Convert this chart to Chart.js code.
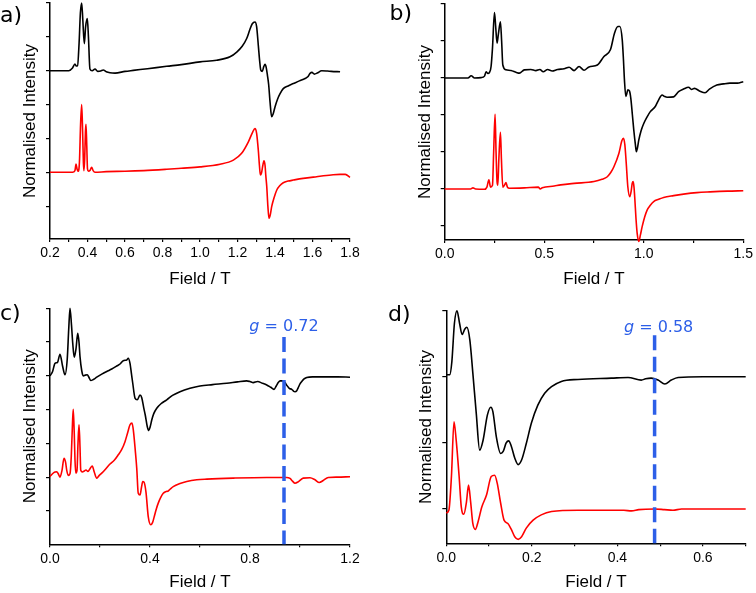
<!DOCTYPE html>
<html>
<head>
<meta charset="utf-8">
<script src="https://cdn.jsdelivr.net/npm/chart.js@4.4.0/dist/chart.umd.min.js"></script>
<style>
body { margin: 0; background: #fff; }
#wrap { position: relative; width: 756px; height: 593px; }
canvas { position: absolute; }
</style>
</head>
<body>
<div id="wrap">
<canvas id="chartA" width="378" height="290" style="left:0;top:0"></canvas>
<canvas id="chartB" width="378" height="290" style="left:378px;top:0"></canvas>
<canvas id="chartC" width="378" height="303" style="left:0;top:290px"></canvas>
<canvas id="chartD" width="378" height="303" style="left:378px;top:290px"></canvas>
</div>
<script>
// ---- panel a ----
const aBlackX = [0.20,0.30,0.32,0.333,0.34,0.347,0.355,0.362,0.369,0.375,0.383,0.39,0.399,0.405,0.413,0.425,0.44,0.455,0.47,0.484,0.50,0.52,0.547,0.60,0.644,0.72,0.822,0.90,1.00,1.089,1.16,1.196,1.225,1.249,1.265,1.278,1.293,1.302,1.311,1.318,1.324,1.332,1.340,1.347,1.353,1.36,1.366,1.374,1.382,1.39,1.40,1.413,1.427,1.444,1.47,1.498,1.53,1.56,1.575,1.587,1.597,1.61,1.625,1.649,1.68,1.70,1.747];
const aBlackY = [5.00,5.00,5.08,5.20,5.14,5.15,5.8,6.7,7.00,6.5,5.8,6.3,6.54,6.0,5.05,5.0,5.05,4.98,4.99,5.02,4.97,4.94,4.93,4.98,5.01,5.06,5.13,5.18,5.26,5.31,5.41,5.55,5.72,5.95,6.2,6.38,6.44,6.3,5.75,5.3,5.02,4.98,5.12,5.19,5.1,4.85,4.6,4.05,3.64,3.72,3.93,4.15,4.32,4.47,4.55,4.62,4.7,4.77,4.82,4.92,4.95,4.9,4.93,5.0,4.99,4.98,4.97];
const aRedX = [0.20,0.32,0.333,0.339,0.345,0.35,0.357,0.363,0.369,0.374,0.378,0.381,0.385,0.389,0.392,0.396,0.40,0.405,0.413,0.422,0.43,0.44,0.50,0.60,0.70,0.822,0.90,1.00,1.107,1.178,1.222,1.258,1.281,1.293,1.302,1.311,1.317,1.322,1.328,1.335,1.341,1.347,1.351,1.356,1.362,1.368,1.375,1.382,1.395,1.409,1.425,1.444,1.47,1.498,1.55,1.622,1.70,1.747,1.775,1.80];
const aRedY = [2.00,2.00,2.05,2.24,2.08,2.03,2.3,3.4,4.00,3.2,2.3,2.05,2.4,3.2,3.42,2.8,2.1,2.03,2.05,2.15,2.05,2.00,2.02,2.03,2.05,2.09,2.12,2.16,2.24,2.36,2.56,2.90,3.19,3.29,3.15,2.65,2.2,1.92,1.98,2.2,2.34,2.2,1.9,1.58,1.0,0.64,0.75,0.98,1.25,1.47,1.6,1.69,1.74,1.77,1.82,1.87,1.92,1.94,1.94,1.85];
const aTicks = [0.2,0.3,0.4,0.5,0.6,0.7,0.8,0.9,1.0,1.1,1.2,1.3,1.4,1.5,1.6,1.7,1.8];
const aLabels = ['0.2','','0.4','','0.6','','0.8','','1.0','','1.2','','1.4','','1.6','','1.8'];

// ---- panel b ----
const bBlackX = [0.00,0.117,0.133,0.15,0.183,0.20,0.208,0.217,0.225,0.233,0.24,0.25,0.256,0.263,0.27,0.28,0.286,0.292,0.308,0.333,0.36,0.375,0.40,0.433,0.458,0.478,0.495,0.517,0.54,0.567,0.60,0.625,0.65,0.675,0.70,0.725,0.767,0.80,0.833,0.853,0.87,0.88,0.892,0.898,0.903,0.91,0.915,0.92,0.928,0.935,0.943,0.95,0.958,0.963,0.968,0.975,0.987,1.00,1.017,1.033,1.058,1.075,1.092,1.105,1.117,1.15,1.175,1.20,1.225,1.24,1.255,1.28,1.308,1.33,1.367,1.40,1.433,1.47,1.50];
const bBlackY = [5.00,5.00,5.06,5.0,5.01,5.05,5.17,5.12,5.15,5.31,5.8,6.77,6.4,5.94,6.2,6.52,6.0,5.35,5.22,5.2,5.15,5.13,5.22,5.23,5.2,5.23,5.17,5.23,5.19,5.23,5.25,5.29,5.2,5.31,5.21,5.3,5.35,5.58,5.77,6.21,6.39,6.39,6.03,5.5,4.95,4.5,4.58,4.68,4.65,4.45,4.0,3.59,3.2,3.01,3.1,3.32,3.58,3.77,3.95,4.09,4.23,4.41,4.54,4.5,4.48,4.49,4.63,4.7,4.75,4.69,4.72,4.65,4.6,4.7,4.81,4.84,4.86,4.86,4.9];
const bRedX = [0.00,0.13,0.142,0.155,0.20,0.212,0.222,0.23,0.24,0.246,0.253,0.258,0.263,0.267,0.272,0.28,0.285,0.292,0.30,0.308,0.315,0.325,0.40,0.47,0.48,0.49,0.55,0.583,0.65,0.75,0.79,0.817,0.835,0.85,0.875,0.89,0.898,0.905,0.912,0.92,0.93,0.937,0.942,0.947,0.951,0.955,0.961,0.967,0.975,0.983,0.992,1.005,1.017,1.033,1.05,1.075,1.1,1.15,1.2,1.267,1.333,1.42,1.5];
const bRedY = [2.00,2.00,2.03,2.0,1.99,2.05,2.25,2.05,2.1,3.0,4.02,3.0,2.2,2.1,2.8,3.53,2.8,2.05,2.1,2.17,2.05,2.02,2.03,2.05,2.0,2.03,2.08,2.11,2.15,2.2,2.26,2.33,2.45,2.6,2.96,3.3,3.37,3.2,2.7,2.06,1.79,1.95,2.15,2.2,2.05,1.75,1.2,0.8,0.58,0.75,0.98,1.25,1.43,1.56,1.66,1.72,1.77,1.82,1.86,1.9,1.92,1.94,1.95];
const bTicks = [0,0.25,0.5,0.75,1.0,1.25,1.5];
const bLabels = ['0.0','','0.5','','1.0','','1.5'];

// ---- panel c ----
const cBlackX = [0.00,0.01,0.02,0.03,0.04,0.05,0.06,0.069,0.075,0.08,0.086,0.091,0.097,0.104,0.111,0.116,0.12,0.127,0.133,0.141,0.149,0.156,0.163,0.175,0.187,0.207,0.227,0.247,0.267,0.28,0.293,0.307,0.313,0.32,0.326,0.331,0.34,0.349,0.36,0.367,0.375,0.381,0.389,0.395,0.401,0.407,0.415,0.427,0.445,0.467,0.49,0.52,0.56,0.60,0.65,0.707,0.75,0.787,0.80,0.813,0.83,0.85,0.867,0.883,0.896,0.905,0.913,0.921,0.931,0.94,0.947,0.957,0.967,0.975,0.98,0.987,0.993,1.0,1.007,1.015,1.027,1.05,1.10,1.15,1.20];
const cBlackY = [5.00,5.12,5.37,5.4,5.64,5.3,5.03,5.5,6.4,7.00,6.5,5.96,5.55,5.8,6.26,6.0,5.57,5.15,5.0,5.02,5.03,4.95,4.86,4.9,4.96,5.05,5.13,5.2,5.29,5.35,5.45,5.47,5.52,5.37,5.05,4.78,4.34,4.29,4.43,4.35,4.05,3.84,3.5,3.38,3.5,3.69,3.88,4.04,4.18,4.29,4.42,4.53,4.63,4.70,4.74,4.78,4.82,4.85,4.83,4.8,4.83,4.78,4.73,4.66,4.6,4.7,4.8,4.85,4.85,4.8,4.72,4.63,4.6,4.54,4.53,4.56,4.65,4.76,4.83,4.9,4.95,4.97,4.97,4.97,4.96];
const cRedX = [0.00,0.01,0.02,0.027,0.033,0.04,0.048,0.056,0.062,0.067,0.073,0.08,0.085,0.09,0.093,0.097,0.1,0.103,0.108,0.112,0.116,0.12,0.123,0.13,0.137,0.144,0.152,0.16,0.169,0.177,0.187,0.197,0.207,0.22,0.24,0.257,0.273,0.287,0.30,0.31,0.32,0.328,0.334,0.341,0.347,0.353,0.36,0.366,0.371,0.376,0.384,0.393,0.403,0.41,0.416,0.425,0.433,0.443,0.453,0.463,0.473,0.483,0.493,0.52,0.547,0.587,0.627,0.733,0.867,0.947,0.96,0.97,0.98,0.993,1.013,1.04,1.06,1.077,1.093,1.113,1.15,1.20];
const cRedY = [2.02,2.1,2.15,2.16,2.1,2.0,2.2,2.56,2.45,2.2,2.05,2.1,2.6,3.6,4.01,3.3,2.5,2.12,2.2,3.0,3.55,2.9,2.2,2.15,2.18,2.21,2.17,2.25,2.33,2.15,1.97,2.05,2.12,2.22,2.39,2.5,2.66,2.82,3.05,3.3,3.55,3.6,3.35,2.8,2.26,1.52,1.47,1.7,1.87,1.85,1.55,0.83,0.59,0.65,0.8,1.05,1.23,1.4,1.52,1.57,1.59,1.66,1.72,1.81,1.87,1.92,1.94,1.97,1.99,1.99,1.96,1.88,1.82,1.86,1.97,1.98,1.92,1.84,1.9,1.99,2.0,2.01];
const cTicks = [0,0.2,0.4,0.6,0.8,1.0,1.2];
const cLabels = ['0.0','','0.4','','0.8','','1.2'];

// ---- panel d ----
const dBlackX = [0.000,0.008,0.013,0.019,0.025,0.031,0.037,0.043,0.048,0.055,0.062,0.070,0.078,0.086,0.096,0.104,0.109,0.117,0.127,0.133,0.140,0.146,0.152,0.160,0.168,0.176,0.187,0.199,0.214,0.230,0.246,0.269,0.308,0.386,0.425,0.456,0.466,0.479,0.495,0.511,0.526,0.542,0.60,0.70];
const dBlackY = [3.03,3.03,3.23,3.81,4.00,3.81,3.64,3.72,3.75,3.56,3.06,2.45,1.89,2.04,2.42,2.54,2.47,2.09,1.84,1.87,2.0,2.03,1.95,1.77,1.67,1.74,1.99,2.3,2.57,2.75,2.85,2.93,2.96,2.98,2.99,2.95,2.97,2.98,2.95,2.89,2.95,2.99,3.00,3.00];
const dRedX = [0.000,0.006,0.012,0.018,0.023,0.030,0.035,0.041,0.047,0.052,0.057,0.062,0.068,0.074,0.083,0.094,0.105,0.113,0.119,0.127,0.135,0.144,0.152,0.160,0.168,0.176,0.187,0.203,0.222,0.246,0.308,0.386,0.415,0.433,0.45,0.487,0.51,0.53,0.55,0.70];
const dRedY = [0.94,0.98,1.49,2.32,2.05,1.49,1.03,0.92,1.1,1.36,1.1,0.78,0.69,0.8,1.03,1.21,1.49,1.51,1.39,1.09,0.83,0.78,0.69,0.58,0.54,0.58,0.71,0.83,0.91,0.96,0.98,0.98,0.98,0.97,0.99,1.0,0.99,0.98,1.0,1.0];
const dTicks = [0,0.1,0.2,0.3,0.4,0.5,0.6,0.7];
const dLabels = ['0.0','','0.2','','0.4','','0.6',''];

const yTicks7 = [1,2,3,4,5,6,7];
const yTicks4 = [1,2,3,4];

const FONT = "'Liberation Sans', Arial, sans-serif";
const BLUE = '#2d5fe8';

function pts(xs, ys) {
  return xs.map((x, i) => ({x: x, y: ys[i]}));
}

function makePanel(id, p) {
  const cv = document.getElementById(id);
  const W = cv.width, H = cv.height;
  const sets = [];
  if (p.gX !== undefined) {
    sets.push({data: pts([p.gX, p.gX], [p.gTop, p.yMin]), borderColor: BLUE, borderWidth: 3.5,
      borderDash: [15, 6.5], borderCapStyle: 'butt', cubicInterpolationMode: 'default', clip: false});
  }
  sets.push({data: pts(p.bx, p.by), borderColor: '#000000', clip: 5});
  sets.push({data: pts(p.rx, p.ry), borderColor: '#ff0000', clip: 5});

  new Chart(cv, {
    type: 'line',
    data: {datasets: sets},
    options: {
      responsive: false,
      animation: false,
      layout: {padding: {left: 0, top: p.area.top, right: W - p.area.right, bottom: 0}},
      elements: {
        point: {radius: 0},
        line: {borderWidth: 1.6, cubicInterpolationMode: 'monotone'}
      },
      plugins: {legend: {display: false}, tooltip: {enabled: false}},
      scales: {
        x: {
          type: 'linear', min: p.xMin, max: p.xMax,
          afterBuildTicks: s => { s.ticks = p.xTicks.map(v => ({value: v})); },
          afterFit: s => { s.height = H - p.area.bottom; },
          ticks: {autoSkip: false, maxRotation: 0, padding: 3, color: '#000',
            font: {family: FONT, size: 14}, callback: (v, i) => p.xLabels[i]},
          grid: {drawOnChartArea: false, color: '#000', tickLength: 3, lineWidth: 1.2},
          border: {color: '#000', width: 1.5},
          title: {display: true, text: 'Field / T', color: '#000',
            font: {family: FONT, size: 17}, padding: {top: 0, bottom: 0}}
        },
        y: {
          type: 'linear', min: p.yMin, max: p.yMax,
          afterBuildTicks: s => { s.ticks = p.yTicks.map(v => ({value: v})); },
          afterFit: s => { s.width = p.area.left; },
          ticks: {display: false},
          grid: {drawOnChartArea: false, color: '#000', tickLength: 4, lineWidth: 1.2},
          border: {color: '#000', width: 1.5},
          title: {display: true, text: 'Normalised Intensity', color: '#000',
            font: {family: FONT, size: 17}, padding: {top: p.yTitlePad, bottom: 0}}
        }
      }
    },
    plugins: [{
      id: 'notes',
      afterDraw(chart) {
        const ctx = chart.ctx;
        ctx.save();
        ctx.fillStyle = '#000';
        ctx.font = "22px 'DejaVu Sans'";
        ctx.textBaseline = 'alphabetic';
        ctx.textAlign = 'left';
        ctx.fillText(p.letter, p.letterX, p.letterY);
        if (p.gText) {
          const cx = chart.scales.x.getPixelForValue(p.gX) + p.gOffset;
          ctx.fillStyle = BLUE;
          ctx.textBaseline = 'middle';
          ctx.font = "italic 16px 'DejaVu Sans'";
          const w1 = ctx.measureText('g').width;
          ctx.font = "16px 'DejaVu Sans'";
          const w2 = ctx.measureText(p.gText).width;
          const x0 = cx - (w1 + w2) / 2;
          ctx.font = "italic 16px 'DejaVu Sans'";
          ctx.fillText('g', x0, p.gLabelY);
          ctx.font = "16px 'DejaVu Sans'";
          ctx.fillText(p.gText, x0 + w1, p.gLabelY);
        }
        ctx.restore();
      }
    }]
  });
}

makePanel('chartA', {
  bx: aBlackX, by: aBlackY, rx: aRedX, ry: aRedY,
  xMin: 0.2, xMax: 1.8, xTicks: aTicks, xLabels: aLabels,
  yMin: 0.03, yMax: 7, yTicks: yTicks7,
  area: {left: 50, right: 350, top: 3, bottom: 239},
  yTitlePad: 20, letter: 'a)', letterX: 0, letterY: 21.5
});

makePanel('chartB', {
  bx: bBlackX, by: bBlackY, rx: bRedX, ry: bRedY,
  xMin: 0, xMax: 1.5, xTicks: bTicks, xLabels: bLabels,
  yMin: 0.62, yMax: 7, yTicks: yTicks7,
  area: {left: 66.7, right: 366.7, top: 4, bottom: 240},
  yTitlePad: 37, letter: 'b)', letterX: 11.5, letterY: 20
});

makePanel('chartC', {
  bx: cBlackX, by: cBlackY, rx: cRedX, ry: cRedY,
  xMin: 0, xMax: 1.2, xTicks: cTicks, xLabels: cLabels,
  yMin: 0.01, yMax: 7, yTicks: yTicks7,
  area: {left: 50, right: 350, top: 18.3, bottom: 254.3},
  yTitlePad: 20.6, letter: 'c)', letterX: 0, letterY: 30,
  gX: 0.936, gTop: 6.15, gText: ' = 0.72', gOffset: 0, gLabelY: 37
});

makePanel('chartD', {
  bx: dBlackX, by: dBlackY, rx: dRedX, ry: dRedY,
  xMin: 0, xMax: 0.7, xTicks: dTicks, xLabels: dLabels,
  yMin: 0.48, yMax: 4, yTicks: yTicks4,
  area: {left: 68.3, right: 367.7, top: 20.7, bottom: 253.3},
  yTitlePad: 38.5, letter: 'd)', letterX: 10, letterY: 31,
  gX: 0.487, gTop: 3.63, gText: ' = 0.58', gOffset: 4, gLabelY: 38
});
</script>
</body>
</html>
